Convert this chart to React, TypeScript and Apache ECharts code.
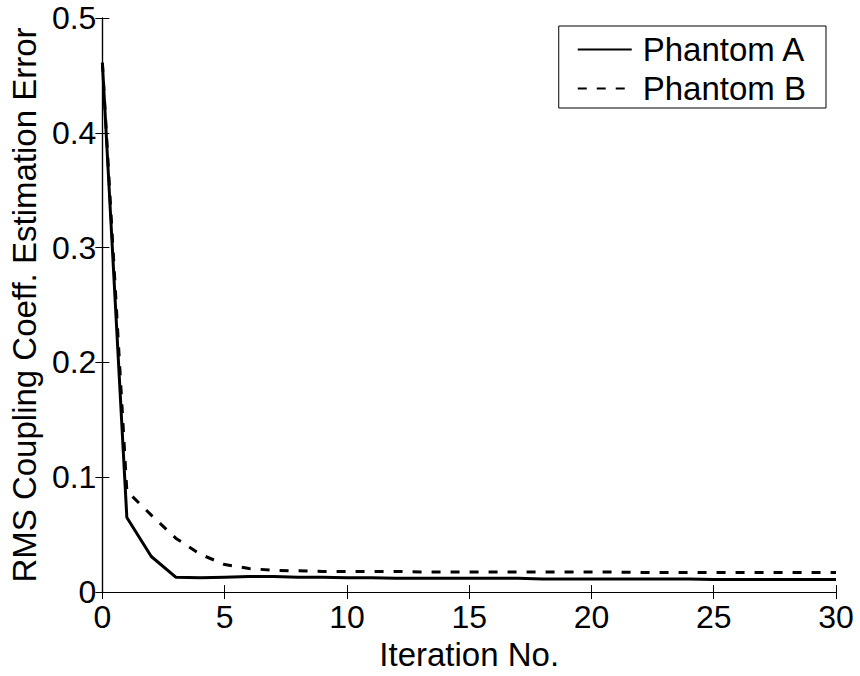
import React, { useEffect, useRef } from "react";
import * as echarts from "echarts";

const iterations = Array.from({ length: 31 }, (_, i) => i);
const phantomA = [
  0.461, 0.065, 0.031, 0.013, 0.0125, 0.013, 0.0135, 0.0135, 0.013, 0.013,
  0.0125, 0.0125, 0.012, 0.012, 0.012, 0.012, 0.012, 0.012, 0.0115, 0.0115,
  0.0115, 0.0115, 0.0115, 0.0115, 0.0115, 0.011, 0.011, 0.011, 0.011, 0.011, 0.011,
];
const phantomB = [
  0.461, 0.088, 0.067, 0.047, 0.033, 0.024, 0.0205, 0.019, 0.0185, 0.018,
  0.018, 0.018, 0.018, 0.0175, 0.0175, 0.0175, 0.0175, 0.0175, 0.0175, 0.0175,
  0.0175, 0.0175, 0.017, 0.017, 0.017, 0.017, 0.017, 0.017, 0.017, 0.017, 0.017,
];
const seriesNames = ["Phantom A", "Phantom B"];
const xTitle = "Iteration No.";
const yTitle = "RMS Coupling Coeff. Estimation Error";

const FONT = "'Liberation Sans', Arial, Helvetica, sans-serif";

export default function App() {
  const ref = useRef<HTMLDivElement>(null);
  useEffect(() => {
    if (!ref.current) return;
    const chart = echarts.init(ref.current, null, { renderer: "svg" });
    const axisLine = { show: true, lineStyle: { color: "#000", width: 1.2 } };
    const axisTick = { show: true, inside: true, length: 7, lineStyle: { color: "#000", width: 1 } };
    chart.setOption({
      animation: false,
      backgroundColor: "#fff",
      textStyle: { fontFamily: FONT, color: "#000" },
      grid: { left: 98, right: 24, top: 18, bottom: 76, containLabel: false },
      legend: {
        orient: "vertical",
        right: 34,
        top: 26,
        data: seriesNames,
        itemWidth: 54,
        itemHeight: 14,
        itemGap: 6,
        padding: [7, 20, 3, 18],
        borderColor: "#000",
        borderWidth: 1,
        backgroundColor: "#fff",
        itemStyle: { opacity: 0, borderWidth: 0 },
        textStyle: { fontSize: 33, color: "#000", fontFamily: FONT, padding: [0, 0, 0, 6] },
      },
      xAxis: [
        {
          type: "value",
          min: 0,
          max: 30,
          interval: 5,
          name: xTitle,
          nameLocation: "middle",
          nameGap: 34,
          nameTextStyle: { fontSize: 33, color: "#000", fontFamily: FONT },
          axisLine,
          axisTick,
          axisLabel: { fontSize: 32, color: "#000", margin: 9, fontFamily: FONT },
          splitLine: { show: false },
        },
        {
          type: "value",
          position: "top",
          min: 0,
          max: 30,
          interval: 5,
          axisLine,
          axisTick,
          axisLabel: { show: false },
          splitLine: { show: false },
        },
      ],
      yAxis: [
        {
          type: "value",
          min: 0,
          max: 0.5,
          interval: 0.1,
          name: yTitle,
          nameLocation: "middle",
          nameGap: 46,
          nameTextStyle: { fontSize: 33, color: "#000", fontFamily: FONT },
          axisLine,
          axisTick,
          axisLabel: { fontSize: 32, color: "#000", margin: 6, fontFamily: FONT },
          splitLine: { show: false },
        },
        {
          type: "value",
          position: "right",
          min: 0,
          max: 0.5,
          interval: 0.1,
          axisLine,
          axisTick,
          axisLabel: { show: false },
          splitLine: { show: false },
        },
      ],
      series: [
        {
          name: seriesNames[0],
          type: "line",
          data: iterations.map((x, i) => [x, phantomA[i]]),
          symbol: "none",
          lineStyle: { color: "#000", width: 3, type: "solid" },
          itemStyle: { color: "#000" },
        },
        {
          name: seriesNames[1],
          type: "line",
          data: iterations.map((x, i) => [x, phantomB[i]]),
          symbol: "none",
          lineStyle: { color: "#000", width: 3, type: [9, 10] },
          itemStyle: { color: "#000" },
        },
      ],
    });
    return () => chart.dispose();
  }, []);
  return <div ref={ref} style={{ width: 860, height: 676, position: "absolute", left: 0, top: 0 }} />;
}
